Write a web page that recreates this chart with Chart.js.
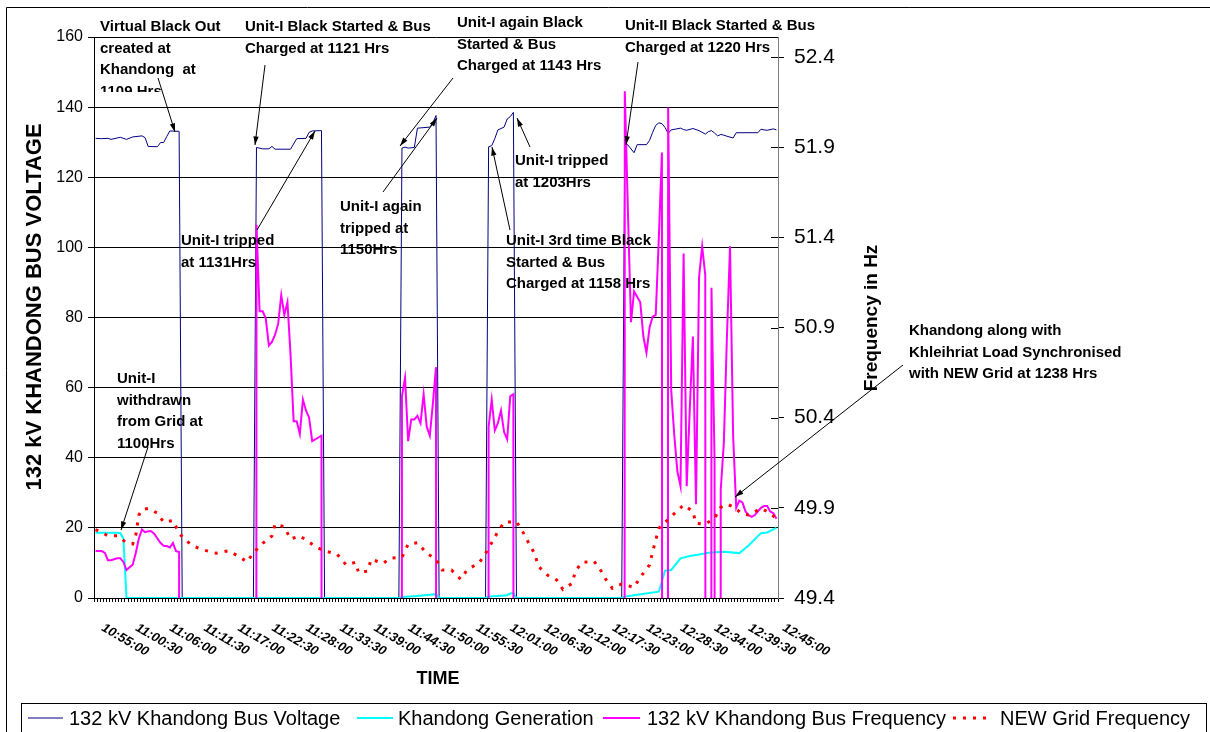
<!DOCTYPE html>
<html>
<head>
<meta charset="utf-8">
<title>Khandong black start</title>
<script src="https://cdn.jsdelivr.net/npm/chart.js@4.4.1/dist/chart.umd.min.js"></script>
<style>
  html, body { margin: 0; padding: 0; background: #fff; }
  #wrap { position: relative; width: 1210px; height: 732px; }
</style>
</head>
<body>
<div id="wrap"><canvas id="grafiek" width="1210" height="732"></canvas></div>
<script>
// tijd = minuten na 10:55:00 (metingen elke 30 s)
const xLabels = [
    "10:55:00", "11:00:30", "11:06:00", "11:11:30", "11:17:00", "11:22:30", "11:28:00",
    "11:33:30", "11:39:00", "11:44:30", "11:50:00", "11:55:30", "12:01:00", "12:06:30",
    "12:12:00", "12:17:30", "12:23:00", "12:28:30", "12:34:00", "12:39:30", "12:45:00"
];
const voltTicks = [0, 20, 40, 60, 80, 100, 120, 140, 160];
const freqTicks = [49.4, 49.9, 50.4, 50.9, 51.4, 51.9, 52.4];

// 132 kV Khandong Bus Voltage (kV)
const voltT = [0, 1, 2, 2.5, 4, 5, 6, 7.5, 8, 8.5, 10, 10.5, 11, 11.5, 12, 13.5, 14,
    25.5, 26, 27, 28, 28.5, 29, 31.5, 32.5, 34, 34.5, 35, 36.5, 37,
    49, 49.5, 50, 50.5, 51.5, 52, 54, 54.5, 55, 55.5,
    63, 63.5, 64, 64.5, 65, 66, 66.5, 67, 67.5, 68,
    85, 85.5, 86, 87, 87.5, 89, 89.5, 90, 90.5, 91, 91.5, 92, 92.5, 93, 94.5, 95, 95.5,
    96.5, 97, 97.5, 98.5, 99, 99.5, 100, 100.5, 101, 101.5, 102, 103, 103.5, 107, 107.5,
    108, 108.5, 109.5, 110];
const voltV = [131.1, 131.0, 131.1, 130.8, 131.4, 130.8, 131.5, 131.8, 131.3, 128.8, 128.7, 129.9, 129.9, 131.6, 133.2, 133.1, 0,
    0, 128.5, 128.1, 128.1, 128.8, 128.0, 128.0, 131.0, 131.1, 132.8, 133.2, 133.3, 0,
    0, 128.3, 128.6, 128.3, 128.5, 134.0, 134.3, 135.5, 137.6, 0,
    0, 128.7, 129.0, 131.0, 133.5, 134.3, 136.6, 137.3, 138.5, 0,
    0, 129.8, 129.2, 127.0, 129.3, 129.3, 130.5, 132.8, 134.8, 135.5, 135.3, 134.2, 132.5, 133.5, 134.0, 133.6, 133.4,
    133.9, 133.6, 133.3, 132.3, 133.0, 133.3, 132.6, 131.8, 132.2, 132.0, 131.7, 131.2, 132.7, 132.7, 133.7,
    133.5, 133.4, 133.8, 133.5];

// Khandong Generation (MW)
const genT = [0, 3.5, 4, 4.5, 5, 49, 49.5, 52, 54, 55, 55.5, 63, 63.5, 65, 66.5, 67, 67.5, 68,
    85, 85.5, 87.5, 91, 92, 93, 94.5, 96, 97.5, 99, 101.5, 104, 105.5, 107.5, 108.5, 110];
const genV = [18.6, 18.6, 18.5, 17.0, 0, 0, 0.3, 0.6, 0.9, 1.1, 0, 0, 0.4, 0.6, 0.8, 1.3, 1.4, 0,
    0, 0.4, 0.9, 1.8, 7.8, 8.0, 11.3, 12.0, 12.4, 12.9, 13.2, 12.8, 15.0, 18.5, 18.7, 20.0];

// 132 kV Khandong Bus Frequency (Hz), 0 = bus dood
const freqT = [0, 1, 1.5, 2, 2.5, 3.5, 4, 4.5, 5, 5.5, 6, 6.5, 7, 7.5, 8, 8.5, 9, 9.5, 10, 10.5, 11, 11.5, 12, 12.5, 13, 13.5, 14,
    25.5, 26, 26.5, 27, 27.5, 28, 28.5, 29, 29.5, 30, 30.5, 31, 31.5, 32, 32.5, 33, 33.5, 34, 34.5, 35, 35.5, 36, 36.5, 37,
    49, 49.5, 50, 50.5, 51, 51.5, 52, 52.5, 53, 53.5, 54, 54.5, 55, 55.5,
    63, 63.5, 64, 64.5, 65, 65.5, 66, 66.5, 67, 67.5, 68,
    85, 85.5, 86, 86.5, 87, 87.5, 88, 88.5, 89, 89.5, 90, 90.5, 91, 91.5, 92, 92.5, 93, 93.5, 94, 94.5, 95, 95.5,
    96, 96.5, 97, 97.5, 98, 98.5, 99, 99.5, 100, 100.5, 101, 101.5, 102, 102.5, 103, 103.5, 104, 104.5, 105, 105.5,
    106, 106.5, 107, 107.5, 108, 108.5, 109, 109.5, 110];
const freqV = [49.66, 49.66, 49.65, 49.61, 49.61, 49.62, 49.62, 49.60, 49.555, 49.57, 49.585, 49.65, 49.73, 49.78, 49.765, 49.77, 49.77, 49.755, 49.73, 49.705, 49.69, 49.688, 49.68, 49.705, 49.66, 49.655, 0,
    0, 51.47, 50.99, 50.99, 50.95, 50.80, 50.82, 50.86, 50.92, 51.08, 50.97, 51.04, 50.75, 50.38, 50.38, 50.31, 50.50, 50.44, 50.40, 50.27, 50.28, 50.29, 50.30, 0,
    0, 50.52, 50.62, 50.27, 50.39, 50.39, 50.41, 50.37, 50.53, 50.35, 50.30, 50.48, 50.68, 0,
    0, 50.35, 50.50, 50.33, 50.37, 50.44, 50.32, 50.28, 50.52, 50.53, 0,
    0, 52.21, 51.55, 50.93, 51.10, 51.07, 51.04, 50.85, 50.76, 50.90, 50.96, 50.97, 51.40, 51.87, 0, 52.12, 50.55, 50.30, 50.10, 50.02, 51.31, 50.02,
    50.45, 50.85, 49.92, 51.18, 51.35, 51.19, 0, 51.12, 50.17, 0, 50.0, 50.26, 50.85, 51.35, 50.30, 49.90, 49.94, 49.93, 49.88, 49.86,
    49.85, 49.86, 49.88, 49.90, 49.91, 49.91, 49.88, 49.87, 49.84];

// NEW Grid Frequency (Hz)
const gridT = [0, 2, 3.5, 5, 6, 6.5, 7, 7.5, 8.5, 10, 11, 12.5, 13.5, 14.5, 16, 17.5, 19.5, 21.5, 23, 24.5,
    25.5, 27, 28.5, 29, 30.5, 31.5, 33, 34.5, 36, 37.5, 39, 40.5, 42, 42.5, 44, 44.5, 46.5, 47.5,
    49.5, 50.5, 52, 53.5, 55, 56, 57.5, 59, 60, 62, 63, 64, 65, 66, 68, 69, 70, 71, 71.5, 73, 74.5,
    75.5, 77, 77.5, 78.5, 80.5, 81.5, 82.5, 83.5, 85, 87, 88, 89.5, 90, 91, 92.5, 94, 95, 96.5, 97,
    98.5, 100, 101, 102, 103, 104.5, 105.5, 107.5, 108.5, 110];
const gridV = [49.78, 49.745, 49.745, 49.707, 49.70, 49.75, 49.86, 49.89, 49.897, 49.87, 49.82, 49.83, 49.76, 49.72, 49.685, 49.666, 49.648, 49.662, 49.633, 49.60,
    49.651, 49.703, 49.744, 49.81, 49.795, 49.727, 49.745, 49.709, 49.676, 49.657, 49.644, 49.583, 49.598, 49.54, 49.55, 49.615, 49.592, 49.62,
    49.626, 49.698, 49.707, 49.648, 49.615, 49.555, 49.555, 49.504, 49.555, 49.596, 49.648, 49.707, 49.768, 49.82, 49.823, 49.768, 49.703, 49.642, 49.577, 49.527, 49.50,
    49.448, 49.481, 49.546, 49.596, 49.605, 49.56, 49.50, 49.454, 49.478, 49.459, 49.515, 49.583, 49.657, 49.786, 49.836, 49.884, 49.916, 49.879, 49.814,
    49.81, 49.842, 49.903, 49.92, 49.906, 49.866, 49.86, 49.897, 49.88, 49.842];

// Tekstvakken op de grafiek: [x, eerste basislijn, regels, clip-onderkant]
const notes = [
    [100, 31, ["Virtual Black Out", "created at", "Khandong  at", "1109 Hrs"], 92],
    [245, 31, ["Unit-I Black Started & Bus", "Charged at 1121 Hrs"]],
    [457, 27, ["Unit-I again Black", "Started & Bus", "Charged at 1143 Hrs"]],
    [625, 30, ["Unit-II Black Started & Bus", "Charged at 1220 Hrs"]],
    [515, 165, ["Unit-I tripped", "at 1203Hrs"]],
    [340, 211, ["Unit-I again", "tripped at", "1150Hrs"]],
    [181, 245, ["Unit-I tripped", "at 1131Hrs"]],
    [506, 245, ["Unit-I 3rd time Black", "Started & Bus", "Charged at 1158 Hrs"]],
    [117, 383, ["Unit-I", "withdrawn", "from Grid at", "1100Hrs"]],
    [909, 335, ["Khandong along with", "Khleihriat Load Synchronised", "with NEW Grid at 1238 Hrs"]]
];
// Pijlen: [van x, van y, naar x, naar y]
const arrows = [
    [158, 78, 175, 132], [265, 65, 255, 145], [257, 230, 315, 131], [453, 78, 400, 146],
    [383, 192, 437, 118], [530, 147, 517, 118], [510, 230, 492, 147], [638, 62, 626, 145],
    [148, 447, 121, 530], [903, 365, 735, 497]
];

const FONT = '"Liberation Sans", Arial, sans-serif';

function toMin(label) {
    const [h, m, s] = label.split(':').map(Number);
    return h * 60 + m + s / 60 - (10 * 60 + 55);
}

function punten(ts, vs) {
    return ts.map((t, i) => ({ x: t, y: vs[i] }));
}

function pijl(ctx, x1, y1, x2, y2) {
    const a = Math.atan2(y2 - y1, x2 - x1);
    ctx.beginPath();
    ctx.moveTo(x1, y1);
    ctx.lineTo(x2, y2);
    ctx.stroke();
    ctx.beginPath();
    ctx.moveTo(x2, y2);
    ctx.lineTo(x2 - 9 * Math.cos(a - 0.3), y2 - 9 * Math.sin(a - 0.3));
    ctx.lineTo(x2 - 9 * Math.cos(a + 0.3), y2 - 9 * Math.sin(a + 0.3));
    ctx.closePath();
    ctx.fill();
}

const decor = {
    id: 'decor',
    afterDraw(chart) {
        const ctx = chart.ctx;
        const area = chart.chartArea;
        const x = chart.scales.x;
        const y1 = chart.scales.y1;
        ctx.save();

        // buitenrand
        ctx.strokeStyle = '#000';
        ctx.lineWidth = 1;
        ctx.beginPath();
        ctx.moveTo(6.5, 740);
        ctx.lineTo(6.5, 7.5);
        ctx.lineTo(1210, 7.5);
        ctx.stroke();

        // tickjes rechteras ook binnen de grafiek
        ctx.strokeStyle = '#000';
        freqTicks.forEach(f => {
            const py = Math.round(y1.getPixelForValue(f)) + 0.5;
            ctx.beginPath();
            ctx.moveTo(area.right - 7, py);
            ctx.lineTo(area.right, py);
            ctx.stroke();
        });

        // x labels, schuin naar beneden
        ctx.fillStyle = '#000';
        ctx.font = 'italic bold 13px ' + FONT;
        ctx.textAlign = 'left';
        ctx.textBaseline = 'middle';
        xLabels.forEach(l => {
            const px = x.getPixelForValue(toMin(l));
            ctx.save();
            ctx.translate(px + 7, area.bottom + 29);
            ctx.rotate(Math.PI / 6);
            ctx.fillText(l, 0, 0);
            ctx.restore();
        });

        // as-titels
        ctx.textAlign = 'center';
        ctx.font = 'bold 22px ' + FONT;
        ctx.save();
        ctx.translate(35, 307);
        ctx.rotate(-Math.PI / 2);
        ctx.fillText('132 kV KHANDONG BUS VOLTAGE', 0, 0);
        ctx.restore();
        ctx.font = 'bold 19px ' + FONT;
        ctx.save();
        ctx.translate(872, 318);
        ctx.rotate(-Math.PI / 2);
        ctx.fillText('Frequency in Hz', 0, 0);
        ctx.restore();
        ctx.font = 'bold 18px ' + FONT;
        ctx.fillText('TIME', 438, 679);

        // tekstvakken
        ctx.textAlign = 'left';
        ctx.textBaseline = 'alphabetic';
        ctx.font = 'bold 15px ' + FONT;
        notes.forEach(([nx, ny, regels, clipY]) => {
            ctx.save();
            if (clipY) {
                ctx.beginPath();
                ctx.rect(0, 0, 1210, clipY);
                ctx.clip();
            }
            regels.forEach((r, i) => ctx.fillText(r, nx, ny + i * 21.5));
            ctx.restore();
        });

        // pijlen
        ctx.strokeStyle = '#000';
        ctx.fillStyle = '#000';
        ctx.lineWidth = 1;
        arrows.forEach(a => pijl(ctx, ...a));

        // legenda
        ctx.strokeStyle = '#000';
        ctx.strokeRect(21.5, 703.5, 1185, 40);
        ctx.font = '20px ' + FONT;
        ctx.textBaseline = 'middle';
        ctx.fillStyle = '#000';
        const items = [[28, 63, 69, 0], [357, 393, 398, 1], [603, 640, 647, 2], [953, 992, 1000, 3]];
        items.forEach(([x1, x2, tx, i]) => {
            const ds = chart.data.datasets[i];
            ctx.save();
            ctx.strokeStyle = ds.borderColor;
            ctx.lineWidth = ds.borderWidth;
            ctx.setLineDash(ds.borderDash || []);
            ctx.beginPath();
            ctx.moveTo(x1, 718);
            ctx.lineTo(x2, 718);
            ctx.stroke();
            ctx.restore();
            ctx.fillText(ds.label, tx, 719);
        });
        ctx.restore();
    }
};

new Chart(document.getElementById('grafiek'), {
    type: 'line',
    data: {
        datasets: [
            { label: '132 kV Khandong Bus Voltage', data: punten(voltT, voltV), borderColor: '#000080', borderWidth: 1, yAxisID: 'y', order: 4 },
            { label: 'Khandong Generation', data: punten(genT, genV), borderColor: '#00FFFF', borderWidth: 2, yAxisID: 'y', order: 3 },
            { label: '132 kV Khandong Bus Frequency', data: punten(freqT, freqV), borderColor: '#FF00FF', borderWidth: 2, yAxisID: 'y1', order: 2 },
            { label: 'NEW Grid Frequency', data: punten(gridT, gridV), borderColor: '#FF0000', borderWidth: 3, borderDash: [3, 7], yAxisID: 'y1', order: 1 }
        ]
    },
    options: {
        responsive: false,
        animation: false,
        layout: { padding: { top: 37, left: 0, right: 0, bottom: 0 } },
        elements: { point: { radius: 0 }, line: { tension: 0, borderCapStyle: 'butt' } },
        plugins: { legend: { display: false }, tooltip: { enabled: false } },
        scales: {
            x: {
                type: 'linear',
                min: -0.25,
                max: 110.25,
                afterBuildTicks: s => {
                    const t = [];
                    for (let i = 0; i <= 221; i++) t.push({ value: i * 0.5 - 0.25 });
                    s.ticks = t;
                },
                afterFit: s => { s.height = 134; },
                ticks: { display: false },
                grid: { drawOnChartArea: false, tickLength: 4, color: '#000' },
                border: { color: '#000' }
            },
            y: {
                position: 'left',
                min: 0,
                max: 160,
                afterBuildTicks: s => { s.ticks = voltTicks.map(v => ({ value: v })); },
                afterFit: s => { s.width = 94; },
                ticks: { color: '#000', font: { family: FONT, size: 16 }, padding: 5 },
                grid: { color: '#000', tickLength: 6 },
                border: { color: '#000' }
            },
            y1: {
                position: 'right',
                min: 49.4,
                max: 52.511,
                afterBuildTicks: s => { s.ticks = freqTicks.map(v => ({ value: v })); },
                afterFit: s => { s.width = 432; },
                ticks: { color: '#000', font: { family: FONT, size: 21 }, padding: 10, callback: v => v.toFixed(1) },
                grid: { drawOnChartArea: false, color: '#000', tickLength: 6 },
                border: { color: '#808080' }
            }
        }
    },
    plugins: [decor]
});
</script>
</body>
</html>
